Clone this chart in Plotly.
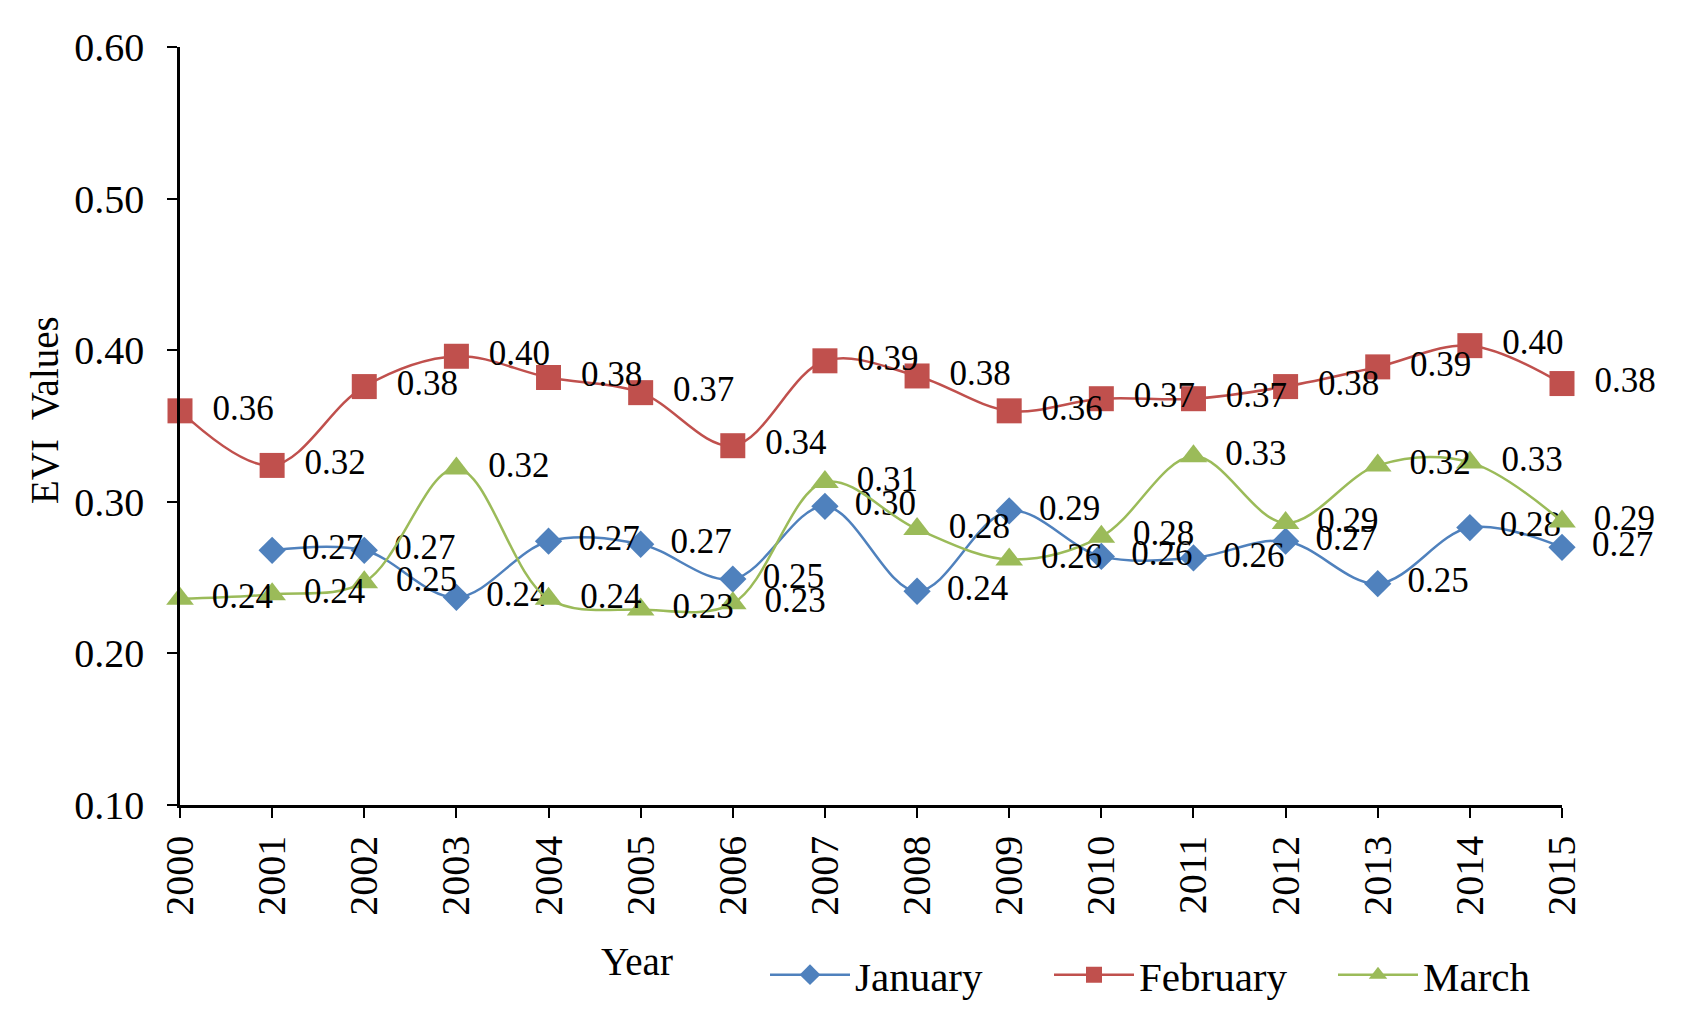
import plotly.graph_objects as go

years = list(range(2000, 2016))
jan_years = list(range(2001, 2016))
january = [0.268, 0.268, 0.237, 0.274, 0.272, 0.249, 0.297, 0.241, 0.294, 0.264, 0.263, 0.274, 0.246, 0.283, 0.270]
february = [0.360, 0.324, 0.376, 0.396, 0.382, 0.372, 0.337, 0.393, 0.383, 0.360, 0.368, 0.368, 0.376, 0.389, 0.403, 0.378]
march = [0.236, 0.239, 0.247, 0.322, 0.236, 0.229, 0.233, 0.313, 0.282, 0.262, 0.277, 0.330, 0.286, 0.324, 0.326, 0.287]
y_ticks = [0.10, 0.20, 0.30, 0.40, 0.50, 0.60]

FONT = "Liberation Serif"
# page body has an 8px margin; keep the figure inside the window
W, H = 1682, 1013
ML, MR, MT, MB = 172, 128, 39, 216
PW, PH = W - ML - MR, H - MT - MB


def px(sx):  # screen x -> paper x
    return (sx - 8 - ML) / PW


def py(sy):  # screen y -> paper y
    return (H - MB - (sy - 8)) / PH


series = [
    ("January", jan_years, january, "#4F81BD", "diamond", 21),
    ("February", years, february, "#C0504D", "square", 25),
    ("March", years, march, "#9BBB59", "triangle-up", 24),
]

fig = go.Figure()
for name, xs, ys, color, symbol, size in series:
    fig.add_trace(go.Scatter(
        x=xs, y=ys, name=name, mode="lines+markers+text",
        line=dict(color=color, width=2.5, shape="spline"),
        marker=dict(color=color, symbol=symbol, size=size),
        texttemplate="\u00a0\u2009%{y:.2f}", textposition="middle right",
        textfont=dict(family=FONT, size=35, color="black"),
        cliponaxis=False,
    ))

fig.update_layout(
    width=W, height=H,
    margin=dict(l=ML, r=MR, t=MT, b=MB, pad=0),
    paper_bgcolor="white", plot_bgcolor="white",
    font=dict(family=FONT, size=40, color="black"),
    showlegend=True,
    legend=dict(orientation="h", x=px(765), xanchor="left", y=py(975), yanchor="middle",
                font=dict(family=FONT, size=41), bgcolor="rgba(0,0,0,0)",
                itemwidth=80, entrywidth=189, tracegroupgap=0),
    xaxis=dict(range=[2000, 2015], tickmode="array", tickvals=years,
               ticktext=[str(y) for y in years], tickangle=-90,
               showline=True, linecolor="black", linewidth=2.5,
               ticks="outside", ticklen=10, tickwidth=2, tickcolor="black",
               showgrid=False, zeroline=False,
               tickfont=dict(family=FONT, size=40), ticklabelstandoff=2),
    yaxis=dict(range=[0.10, 0.60], tickmode="array", tickvals=y_ticks,
               tickformat=".2f",
               showline=True, linecolor="black", linewidth=2.5,
               ticks="outside", ticklen=10, tickwidth=2, tickcolor="black",
               showgrid=False, zeroline=False,
               tickfont=dict(family=FONT, size=40), ticklabelstandoff=15),
    annotations=[
        dict(text="Year", xref="paper", yref="paper", x=px(637), y=py(961),
             xanchor="center", yanchor="middle",
             showarrow=False, font=dict(family=FONT, size=39)),
        dict(text="EVI\u00a0 Values", xref="paper", yref="paper",
             x=px(44), y=py(410),
             xanchor="center", yanchor="middle", textangle=-90,
             showarrow=False, font=dict(family=FONT, size=39)),
    ],
)

fig.write_html("out.html")
